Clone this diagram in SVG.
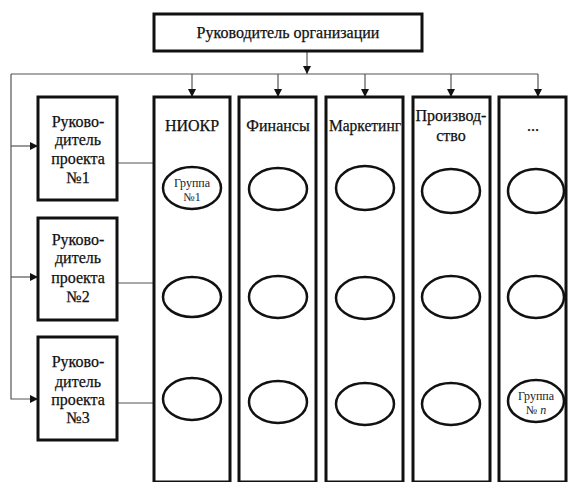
<svg xmlns="http://www.w3.org/2000/svg" width="568" height="482" viewBox="0 0 568 482">
  <style>
    .box { fill: #fff; stroke: #111; stroke-width: 3; }
    .grp { fill: #fff; stroke: #111; stroke-width: 2.5; }
    .link { fill: none; stroke: #555; stroke-width: 1.2; }
    .t { font-family: "Liberation Serif", "Times New Roman", serif; font-size: 16px; fill: #111; stroke: #111; stroke-width: 0.25; text-anchor: middle; }
    .s { font-family: "Liberation Serif", "Times New Roman", serif; font-size: 12px; fill: #222; text-anchor: middle; }
  </style>
  <defs>
    <marker id="arrow" viewBox="0 0 10 10" refX="10" refY="5" markerWidth="8" markerHeight="8" markerUnits="userSpaceOnUse" orient="auto">
      <path d="M0,0 L10,5 L0,10 z" fill="#111"/>
    </marker>
  </defs>

  <!-- connectors -->
  <g id="connectors">
    <path class="link" d="M307,51 V74" marker-end="url(#arrow)"/>
    <path class="link" d="M11,74 H538"/>
    <path class="link" d="M192,74 V97" marker-end="url(#arrow)"/>
    <path class="link" d="M278,74 V97" marker-end="url(#arrow)"/>
    <path class="link" d="M365,74 V97" marker-end="url(#arrow)"/>
    <path class="link" d="M451,74 V97" marker-end="url(#arrow)"/>
    <path class="link" d="M538,74 V97" marker-end="url(#arrow)"/>
    <path class="link" d="M11,74 V399 H38" marker-end="url(#arrow)"/>
    <path class="link" d="M11,146 H38" marker-end="url(#arrow)"/>
    <path class="link" d="M11,277 H38" marker-end="url(#arrow)"/>
    <path class="link" d="M117,163 H154"/>
    <path class="link" d="M117,283 H154"/>
    <path class="link" d="M117,403 H154"/>
  </g>

  <!-- top manager -->
  <g id="head">
    <rect class="box" x="154" y="14" width="268" height="37"/>
    <text class="t" x="288" y="38">Руководитель организации</text>
  </g>

  <!-- project managers -->
  <g id="pm1">
    <rect class="box" x="38" y="97" width="79" height="103"/>
    <text class="t" x="78" y="127">Руково-</text>
    <text class="t" x="78" y="145">дитель</text>
    <text class="t" x="78" y="164">проекта</text>
    <text class="t" x="78" y="183">№1</text>
  </g>
  <g id="pm2">
    <rect class="box" x="38" y="218" width="79" height="102"/>
    <text class="t" x="78" y="245">Руково-</text>
    <text class="t" x="78" y="263">дитель</text>
    <text class="t" x="78" y="283">проекта</text>
    <text class="t" x="78" y="302">№2</text>
  </g>
  <g id="pm3">
    <rect class="box" x="38" y="337" width="79" height="103"/>
    <text class="t" x="78" y="367">Руково-</text>
    <text class="t" x="78" y="387">дитель</text>
    <text class="t" x="78" y="405">проекта</text>
    <text class="t" x="78" y="423">№3</text>
  </g>

  <!-- functional departments -->
  <g id="dept-niokr">
    <rect class="box" x="154" y="97" width="76" height="385"/>
    <text class="t" x="192" y="131">НИОКР</text>
    <ellipse class="grp" cx="192" cy="188" rx="29" ry="21"/>
    <text class="s" x="192" y="187">Группа</text>
    <text class="s" x="192" y="201">№1</text>
    <ellipse class="grp" cx="192" cy="297" rx="29" ry="20"/>
    <ellipse class="grp" cx="192" cy="399" rx="29" ry="21"/>
  </g>
  <g id="dept-finance">
    <rect class="box" x="239" y="97" width="77" height="385"/>
    <text class="t" x="278" y="131">Финансы</text>
    <ellipse class="grp" cx="278" cy="189" rx="29" ry="21"/>
    <ellipse class="grp" cx="278" cy="297" rx="29" ry="21"/>
    <ellipse class="grp" cx="278" cy="402" rx="29" ry="21"/>
  </g>
  <g id="dept-marketing">
    <rect class="box" x="326" y="97" width="77" height="385"/>
    <text class="t" x="365" y="131" textLength="72" lengthAdjust="spacingAndGlyphs">Маркетинг</text>
    <ellipse class="grp" cx="365" cy="188" rx="29" ry="22"/>
    <ellipse class="grp" cx="365" cy="298" rx="29" ry="21"/>
    <ellipse class="grp" cx="365" cy="404" rx="29" ry="21"/>
  </g>
  <g id="dept-production">
    <rect class="box" x="413" y="97" width="77" height="385"/>
    <text class="t" x="451" y="121">Производ-</text>
    <text class="t" x="451" y="141">ство</text>
    <ellipse class="grp" cx="451" cy="191" rx="29" ry="22"/>
    <ellipse class="grp" cx="451" cy="297" rx="29" ry="21"/>
    <ellipse class="grp" cx="451" cy="404" rx="29" ry="21"/>
  </g>
  <g id="dept-more">
    <rect class="box" x="499" y="97" width="67" height="385"/>
    <text class="t" x="533" y="131">...</text>
    <ellipse class="grp" cx="536" cy="191" rx="28" ry="22"/>
    <ellipse class="grp" cx="536" cy="297" rx="28" ry="21"/>
    <ellipse class="grp" cx="536" cy="401" rx="28" ry="21"/>
    <text class="s" x="536" y="400">Группа</text>
    <text class="s" x="536" y="414">№ <tspan font-style="italic">n</tspan></text>
  </g>
</svg>
